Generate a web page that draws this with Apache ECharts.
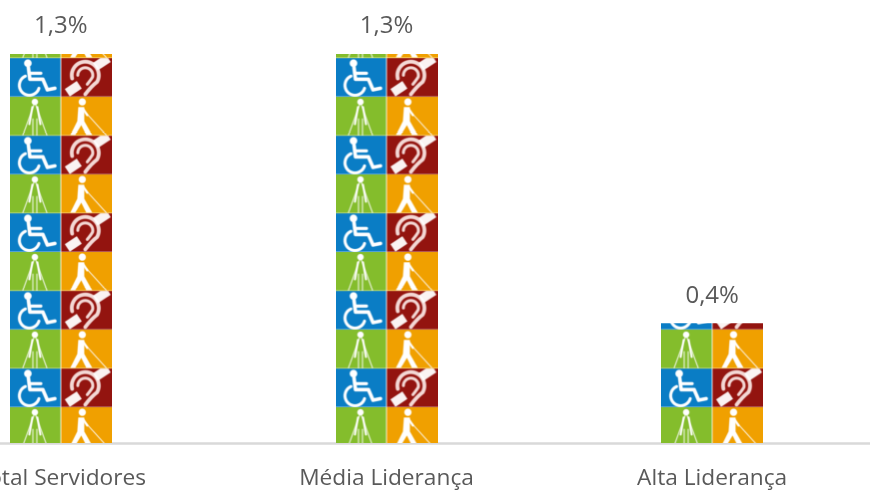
<!DOCTYPE html>
<html><head><meta charset="utf-8">
<style>html,body{margin:0;padding:0;background:#fff;overflow:hidden}#c{width:870px;height:492px}</style>
<script src="https://cdn.jsdelivr.net/npm/echarts@6/dist/echarts.min.js"></script>
</head><body><div id="c"></div>
<script>
const categories = ['Total Servidores', 'Média Liderança', 'Alta Liderança'];
const shareValues = [1.3, 1.3, 0.4];
const axisMax = 1.3;
const tileBoundingValue = 1.5593;

function drawTile() {
  const S = 4, W = 102, H = 77.6, extra = 1, shift = 3.2 + extra;
  const cv = document.createElement('canvas');
  cv.width = W * S; cv.height = Math.round((H + extra) * S);
  const g = cv.getContext('2d');
  g.scale(S, S);
  g.fillStyle = '#fff'; g.fillRect(0, 0, W, H + extra);
  g.filter = 'blur(1.5px)';
  const cell = (x, y, w, h, col, fn) => {
    g.save(); g.beginPath(); g.rect(x, y, w, h); g.clip();
    g.fillStyle = col; g.fillRect(x - 2, y - 2, w + 4, h + 4);
    g.translate(x, y); g.strokeStyle = '#fff'; g.fillStyle = '#fff';
    g.lineCap = 'round'; g.lineJoin = 'round';
    fn();
    g.fillStyle = 'rgba(255,255,255,0.55)';
    g.fillRect(-2, h - 0.8, w + 4, 0.8);
    g.restore();
  };
  const line = (pts, lw, a) => {
    g.globalAlpha = a || 1; g.lineWidth = lw; g.beginPath();
    pts.forEach((p, i) => i ? g.lineTo(p[0], p[1]) : g.moveTo(p[0], p[1]));
    g.stroke(); g.globalAlpha = 1;
  };
  const dot = (x, y, r) => { g.beginPath(); g.arc(x, y, r, 0, 7); g.fill(); };
  const wheel = () => {
    dot(18, 5, 3.8);
    line([[18.5, 9], [20, 21], [33, 21], [37.5, 31.5], [45, 30]], 3.6);
    line([[19.5, 15], [31, 15]], 3.2);
    g.lineWidth = 3; g.beginPath(); g.arc(19.5, 27, 10, 0.3, 4.3); g.stroke();
  };
  const ear = () => {
    g.strokeStyle = '#f4d9d6';
    g.lineWidth = 3.8; g.beginPath(); g.arc(24, 17, 13.5, 2.9, 6.8);
    g.quadraticCurveTo(30, 28, 24, 36); g.stroke();
    g.lineWidth = 3; g.beginPath(); g.arc(24, 17, 7.5, 3.14, 6.5);
    g.quadraticCurveTo(30, 21, 26, 26); g.stroke();
    g.strokeStyle = '#fff';
    g.lineCap = 'butt';
    line([[6, 34.5], [18, 26.5]], 9, 0.95);
    line([[34, 8.5], [47, 0]], 9, 0.95);
    g.lineCap = 'round';
  };
  const low = () => {
    dot(25, 4.8, 3.2);
    line([[24, 8], [13, 38]], 1.1, 0.85);
    line([[26, 8], [37, 38]], 1.1, 0.85);
    line([[22.5, 10], [19.5, 27]], 2);
    line([[27.5, 10], [30.5, 27]], 2);
    line([[23, 22], [23, 38]], 1.6, 0.6);
    line([[27, 22], [27, 38]], 1.6, 0.6);
  };
  const cane = () => {
    dot(21, 4.8, 3.6);
    g.beginPath(); g.moveTo(17, 10); g.lineTo(23, 10); g.lineTo(23, 24);
    g.lineTo(31, 38); g.lineTo(25, 38); g.lineTo(20, 28); g.lineTo(14, 38);
    g.lineTo(9, 38); g.lineTo(16, 24); g.closePath(); g.fill();
    line([[22, 12], [26, 18]], 2.2);
    line([[25, 16], [45, 38]], 1, 0.9);
  };
  const rows = (dy) => {
    const hRow = H / 2;
    cell(0, dy, 50.6, hRow, '#0a7dc5', wheel);
    cell(51.4, dy, 50.6, hRow, '#93140f', ear);
    cell(0, dy + hRow, 50.6, hRow, '#84bd2c', low);
    cell(51.4, dy + hRow, 50.6, hRow, '#f0a000', cane);
  };
  rows(shift - H); rows(shift);
  return cv.toDataURL('image/png');
}

const chart = echarts.init(document.getElementById('c'), null, { renderer: 'canvas' });
chart.setOption({
  animation: false,
  backgroundColor: '#fff',
  grid: { left: -102, width: 977, top: 54, height: 389, outerBoundsMode: 'none', containLabel: false },
  xAxis: {
    type: 'category', data: categories,
    axisTick: { show: false },
    axisLine: { show: true, lineStyle: { color: '#d9d9d9', width: 2.5 } },
    axisLabel: { color: '#595959', fontFamily: 'Open Sans', fontSize: 22.7, margin: 24, interval: 0, hideOverlap: false }
  },
  yAxis: { type: 'value', min: 0, max: axisMax, show: false, splitLine: { show: false } },
  series: [{
    type: 'pictorialBar',
    data: shareValues,
    symbol: 'image://' + drawTile(),
    symbolSize: [102, 78.6],
    symbolRepeat: 6,
    symbolClip: true,
    symbolPosition: 'start',
    symbolBoundingData: tileBoundingValue
  }, {
    type: 'scatter',
    data: shareValues,
    symbolSize: 1,
    itemStyle: { color: 'transparent', opacity: 1 },
    clip: false,
    silent: true,
    label: {
      show: true, position: 'top', distance: 15,
      color: '#595959', fontFamily: 'Open Sans', fontSize: 24,
      formatter: p => String(p.value).replace('.', ',') + '%'
    }
  }]
});
</script></body></html>
